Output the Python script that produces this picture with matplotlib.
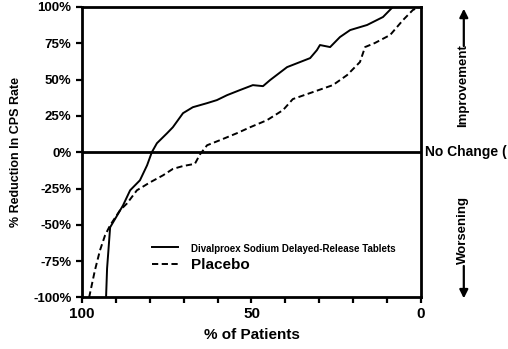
import numpy as np
import matplotlib.pyplot as plt
from matplotlib.ticker import MultipleLocator
from matplotlib.patches import FancyArrowPatch

plt.rcParams['font.family'] = ['Liberation Sans Narrow', 'Liberation Sans', 'DejaVu Sans']
plt.rcParams['font.weight'] = 'bold'

# % of patients (x) vs % reduction in CPS rate (y)
diva_pct = [92.9, 92.6, 91.7, 89.5, 87.9, 85.8, 82.9, 80.8, 79.4, 77.9, 74.9, 73.2,
            70.2, 67.3, 63.1, 60.2, 57.2, 53.4, 49.6, 46.6, 44.5, 39.5, 32.7, 30.7,
            29.8, 26.8, 23.9, 20.9, 15.9, 11.2, 8.3]
diva_red = [-100, -80, -51.7, -43.0, -36.6, -26.2, -19.3, -9.0, 0.0, 6.2, 13.1, 17.2,
            26.9, 31.0, 33.8, 35.9, 39.3, 42.8, 46.2, 45.5, 49.7, 58.6, 64.8, 70.3,
            73.8, 72.4, 79.3, 84.1, 87.6, 93.1, 100]

plac_pct = [97.9, 96.2, 94.7, 93.2, 91.7, 88.8, 86.7, 83.8, 79.9, 76.1, 73.2, 70.2,
            66.7, 65.2, 63.1, 59.3, 54.3, 50.4, 45.4, 40.7, 37.8, 31.9, 26.0, 21.8,
            18.0, 16.5, 13.6, 9.1, 5.3, 2.4, 0.6]
plac_red = [-100, -81.4, -67.6, -57.2, -50.3, -40.0, -35.2, -26.2, -20.7, -15.9, -11.5, -9.5,
            -8.0, -1.5, 4.8, 8.3, 13.1, 17.2, 22.1, 29.0, 36.6, 41.4, 46.2, 53.1,
            62.1, 72.4, 75.2, 80.7, 91.0, 97.9, 100]

yticks = [100, 75, 50, 25, 0, -25, -50, -75, -100]

fig = plt.figure(figsize=(5.08, 3.49), dpi=100)
ax = fig.add_axes([0.1614, 0.1476, 0.6673, 0.8324])

ax.axhline(0, color='black', lw=2, zorder=1)
ax.plot(diva_pct, diva_red, color='black', lw=1.4,
        label='Divalproex Sodium Delayed-Release Tablets')
ax.plot(plac_pct, plac_red, color='black', lw=1.4, ls=(0, (3.2, 1.8)), label='Placebo')

ax.set_xlim(100, 0)
ax.set_ylim(-100, 100)
ax.set_xticks([100, 50, 0])
ax.xaxis.set_minor_locator(MultipleLocator(10))
ax.set_yticks(yticks)
ax.set_yticklabels(['%d%%' % t for t in yticks])
ax.tick_params(axis='both', which='both', direction='out', width=1.6, length=4,
               labelsize=9.5)
ax.tick_params(axis='x', pad=3, labelsize=11)
for s in ax.spines.values():
    s.set_linewidth(2)

ax.set_xlabel('% of Patients', fontsize=11, fontweight='bold', labelpad=5)
ax.set_ylabel('% Reduction In CPS Rate', fontsize=9, fontweight='bold', labelpad=8)

leg = ax.legend(loc='lower left', bbox_to_anchor=(0.19, 0.07), frameon=False,
                handlelength=1.9, handletextpad=0.9, labelspacing=0.25,
                borderaxespad=0)
texts = leg.get_texts()
texts[0].set_fontsize(7)
texts[1].set_fontsize(11)

fig.text(0.837, 0.5645, 'No Change (', fontsize=10, fontweight='bold',
         va='center', ha='left')
fig.text(0.911, 0.754, 'Improvement', rotation=90, fontsize=9.5, fontweight='bold',
         va='center', ha='center')
fig.text(0.911, 0.341, 'Worsening', rotation=90, fontsize=9.5, fontweight='bold',
         va='center', ha='center')
fig.add_artist(FancyArrowPatch(
    (0.913, 0.868), (0.913, 0.975), transform=fig.transFigure,
    arrowstyle='-|>,head_length=5,head_width=2.5', color='black', lw=1.6,
    shrinkA=0, shrinkB=0))
fig.add_artist(FancyArrowPatch(
    (0.913, 0.238), (0.913, 0.145), transform=fig.transFigure,
    arrowstyle='-|>,head_length=5,head_width=2.5', color='black', lw=1.6,
    shrinkA=0, shrinkB=0))

fig.savefig('out.png', dpi=100)
